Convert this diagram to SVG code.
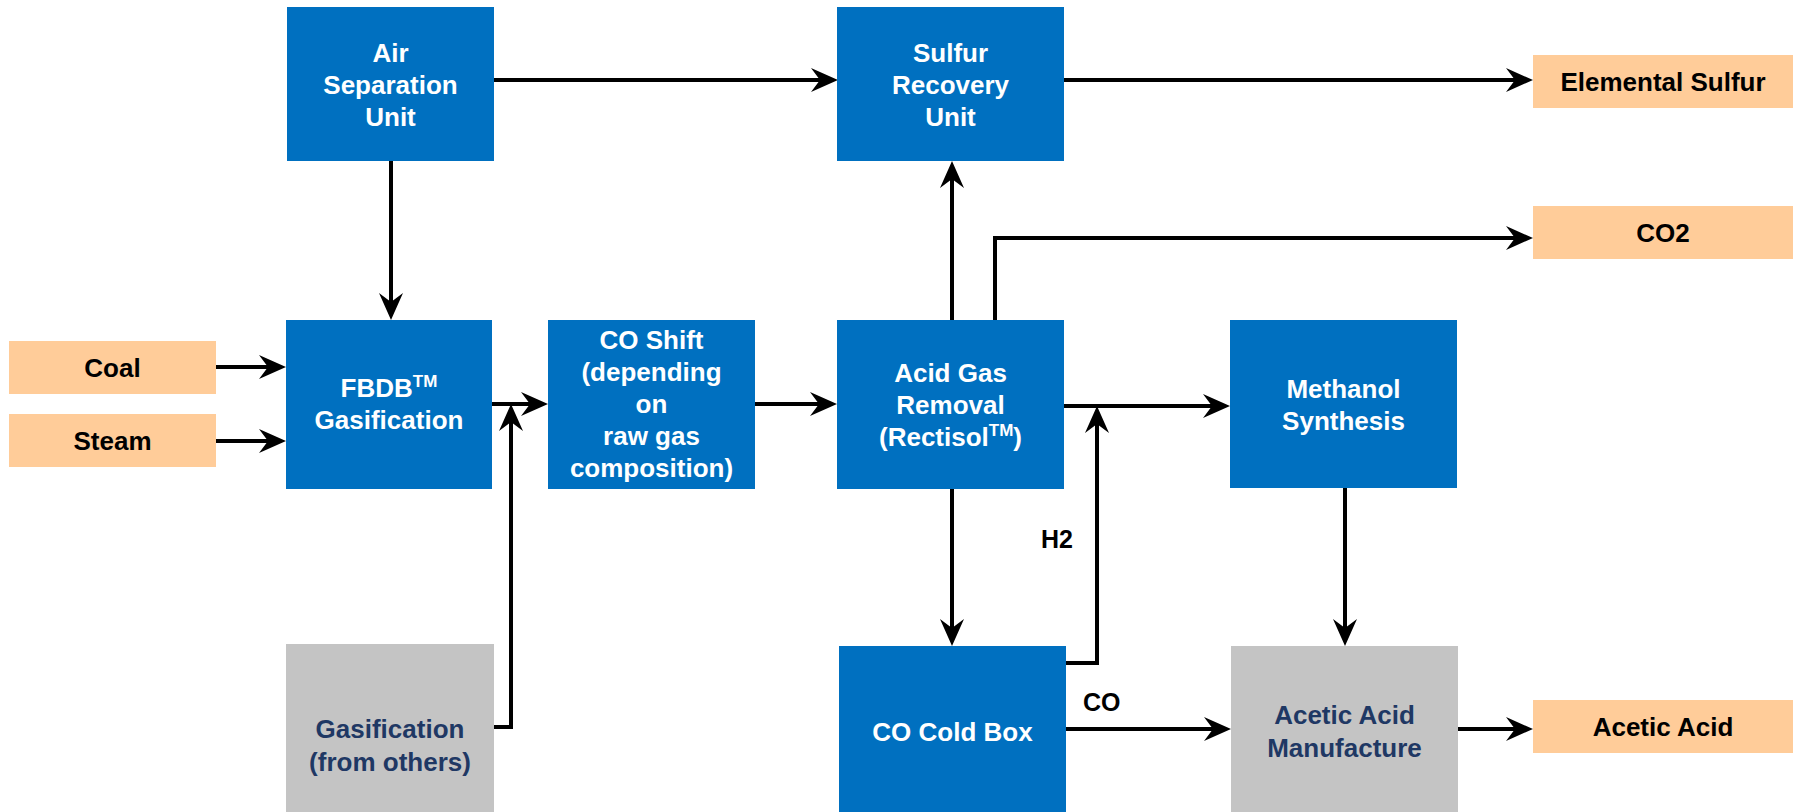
<svg xmlns="http://www.w3.org/2000/svg" width="1800" height="812" viewBox="0 0 1800 812">
<style>
.blue{fill:#0070C0}
.peach{fill:#FFCC99}
.gray{fill:#C4C4C4}
text{font-family:"Liberation Sans",Arial,sans-serif;font-weight:bold;font-size:26px;text-anchor:middle}
.w{fill:#FFFFFF}
.k{fill:#000000}
.n{fill:#1F3864}
.lbl{text-anchor:start;font-size:25px;fill:#000000}
.sup{font-size:17px}
.con{fill:none;stroke:#000000;stroke-width:4;marker-end:url(#arr)}
</style>
<defs>
<marker id="arr" markerUnits="userSpaceOnUse" viewBox="0 -13 27 26" refX="17" refY="0" markerWidth="27" markerHeight="26" orient="auto">
<path d="M0,-12 L27,0 L0,12 L9,0 Z" fill="#000000"/>
</marker>
</defs>
<rect width="1800" height="812" fill="#FFFFFF"/>
<g id="connectors">
<path class="con" d="M494,80 H828"/>
<path class="con" d="M1064,80 H1523"/>
<path class="con" d="M391,161 V310"/>
<path class="con" d="M216,367 H276"/>
<path class="con" d="M216,441 H276"/>
<path class="con" d="M492,404 H538"/>
<path class="con" d="M494,727 H511 V414"/>
<path class="con" d="M755,404 H827"/>
<path class="con" d="M952,320 V171"/>
<path class="con" d="M995,320 V238 H1523"/>
<path class="con" d="M1064,406 H1220"/>
<path class="con" d="M1066,663 H1097 V416"/>
<path class="con" d="M952,489 V636"/>
<path class="con" d="M1345,488 V636"/>
<path class="con" d="M1066,729 H1221"/>
<path class="con" d="M1458,729 H1523"/>
<text class="lbl" x="1041" y="548">H2</text>
<text class="lbl" x="1083" y="711">CO</text>
</g>
<g id="asu">
<rect class="blue" x="287" y="7" width="207" height="154"/>
<text class="w" x="390.5" y="62">Air</text>
<text class="w" x="390.5" y="94">Separation</text>
<text class="w" x="390.5" y="126">Unit</text>
</g>
<g id="sru">
<rect class="blue" x="837" y="7" width="227" height="154"/>
<text class="w" x="950.5" y="62">Sulfur</text>
<text class="w" x="950.5" y="94">Recovery</text>
<text class="w" x="950.5" y="126">Unit</text>
</g>
<g id="sulfur">
<rect class="peach" x="1533" y="55" width="260" height="53"/>
<text class="k" x="1663" y="91">Elemental Sulfur</text>
</g>
<g id="co2">
<rect class="peach" x="1533" y="206" width="260" height="53"/>
<text class="k" x="1663" y="242">CO2</text>
</g>
<g id="coal">
<rect class="peach" x="9" y="341" width="207" height="53"/>
<text class="k" x="112.5" y="377">Coal</text>
</g>
<g id="steam">
<rect class="peach" x="9" y="414" width="207" height="53"/>
<text class="k" x="112.5" y="450">Steam</text>
</g>
<g id="fbdb">
<rect class="blue" x="286" y="320" width="206" height="169"/>
<text class="w" x="389" y="397">FBDB<tspan class="sup" dy="-10">TM</tspan></text>
<text class="w" x="389" y="429">Gasification</text>
</g>
<g id="coshift">
<rect class="blue" x="548" y="320" width="207" height="169"/>
<text class="w" x="651.5" y="349">CO Shift</text>
<text class="w" x="651.5" y="381">(depending</text>
<text class="w" x="651.5" y="413">on</text>
<text class="w" x="651.5" y="445">raw gas</text>
<text class="w" x="651.5" y="477">composition)</text>
</g>
<g id="agr">
<rect class="blue" x="837" y="320" width="227" height="169"/>
<text class="w" x="950.5" y="382">Acid Gas</text>
<text class="w" x="950.5" y="414">Removal</text>
<text class="w" x="950.5" y="446">(Rectisol<tspan class="sup" dy="-10">TM</tspan><tspan dy="10">)</tspan></text>
</g>
<g id="methanol">
<rect class="blue" x="1230" y="320" width="227" height="168"/>
<text class="w" x="1343.5" y="398">Methanol</text>
<text class="w" x="1343.5" y="430">Synthesis</text>
</g>
<g id="gasothers">
<rect class="gray" x="286" y="644" width="208" height="168"/>
<text class="n" x="390" y="738">Gasification</text>
<text class="n" x="390" y="771">(from others)</text>
</g>
<g id="coldbox">
<rect class="blue" x="839" y="646" width="227" height="166"/>
<text class="w" x="952.5" y="741">CO Cold Box</text>
</g>
<g id="acetman">
<rect class="gray" x="1231" y="646" width="227" height="166"/>
<text class="n" x="1344.5" y="724">Acetic Acid</text>
<text class="n" x="1344.5" y="757">Manufacture</text>
</g>
<g id="aceticacid">
<rect class="peach" x="1533" y="700" width="260" height="53"/>
<text class="k" x="1663" y="736">Acetic Acid</text>
</g>
</svg>
